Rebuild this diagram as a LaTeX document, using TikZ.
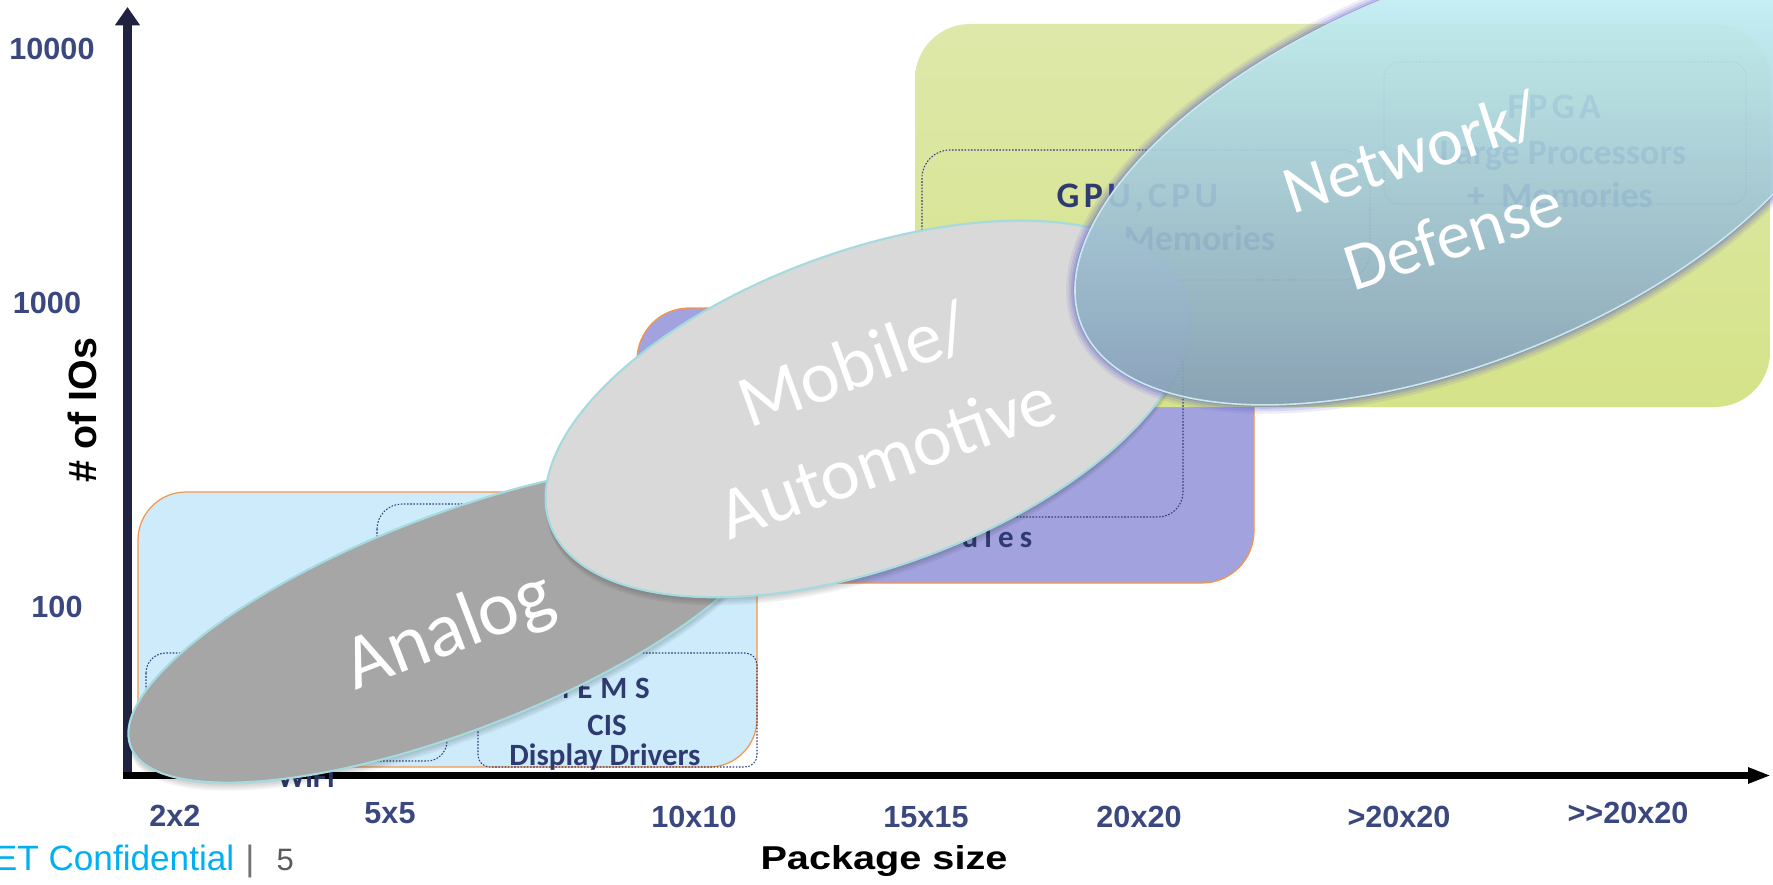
\documentclass[tikz,border=0pt]{standalone}
\usepackage{fontspec}
\usepackage{graphicx}
\usetikzlibrary{arrows.meta}
\newfontfamily\arialfont{Liberation Sans}
\newfontfamily\calfont{Carlito}
\definecolor{axisnavy}{RGB}{31,35,64}
\definecolor{ticknavy}{RGB}{59,72,128}
\definecolor{textnavy}{RGB}{47,58,112}
\definecolor{lbfill}{RGB}{205,235,251}
\definecolor{purplefill}{RGB}{162,163,222}
\definecolor{yeltop}{RGB}{222,232,170}
\definecolor{yelbot}{RGB}{213,227,137}
\definecolor{boxorange}{RGB}{247,150,70}
\definecolor{dotnavy}{RGB}{50,60,125}
\definecolor{analoggray}{RGB}{166,166,166}
\definecolor{mobilegray}{RGB}{217,217,217}
\definecolor{rimcyan}{RGB}{165,218,222}
\definecolor{nettop}{RGB}{204,255,255}
\definecolor{netmid}{RGB}{168,208,222}
\definecolor{netbot}{RGB}{128,152,180}
\definecolor{glowpurple}{RGB}{80,80,200}
\definecolor{confcyan}{RGB}{0,176,240}
\definecolor{pagegray}{RGB}{90,90,90}
\begin{document}
\begin{tikzpicture}[x=0.01cm,y=-0.01cm,
  ticklabel/.style={font=\arialfont\bfseries\fontsize{8.7pt}{10pt}\selectfont, text=ticknavy, inner sep=0, anchor=base},
  boxtext/.style={font=\calfont\bfseries\fontsize{8.8pt}{10pt}\selectfont, text=textnavy, inner sep=0, anchor=base},
  bigboxtext/.style={boxtext, font=\calfont\bfseries\fontsize{10.2pt}{12pt}\selectfont},
  zonelabel/.style={font=\calfont\fontsize{21pt}{28pt}\selectfont, text=white, align=center, inner sep=0},
  orangebox/.style={draw=boxorange, line width=0.35pt},
  dotbox/.style={draw=dotnavy, line width=0.3pt, dash pattern=on 0.45pt off 0.45pt},
  rimline/.style={draw=rimcyan, line width=0.6pt}]

\useasboundingbox (0,0) rectangle (1773,885);
\clip (0,0) rectangle (1773,885);
\fill[white] (0,0) rectangle (1773,885);

% axes
\coordinate (ybase) at (127.5,779);
\coordinate (ytip) at (127.5,7);
\coordinate (xbase) at (123,775.5);
\coordinate (xtip) at (1771,775.5);
\draw[axisnavy, line width=2.3pt, -{Triangle[length=5.2pt,width=6.8pt]}] (ybase) -- (ytip);
\draw[black, line width=2.1pt, -{Triangle[length=6.5pt,width=4.2pt]}] (xbase) -- (xtip);

% tick labels
\node[ticklabel] (y4) at (52,60) {10000};
\node[ticklabel] (y3) at (47,314) {1000};
\node[ticklabel] (y2) at (57,617) {100};
\node[ticklabel] (x1) at (175,826) {2x2};
\node[ticklabel] (x2) at (390,823) {5x5};
\node[ticklabel] (x3) at (694,827) {10x10};
\node[ticklabel] (x4) at (926,827) {15x15};
\node[ticklabel] (x5) at (1139,827) {20x20};
\node[ticklabel] (x6) at (1399,827) {>20x20};
\node[ticklabel] (x7) at (1628,823) {>>20x20};

% axis titles
\node[rotate=90, font=\arialfont\bfseries\fontsize{11.2pt}{13pt}\selectfont, inner sep=0] (ytitle) at (82,410) {\# of IOs};
\node[anchor=base, font=\arialfont\bfseries\fontsize{9.4pt}{11pt}\selectfont, inner sep=0] (xtitle) at (884,869) {\scalebox{1.2}[1]{Package size}};

% footer
\node[anchor=base east, font=\arialfont\fontsize{10pt}{12pt}\selectfont, text=confcyan, inner sep=0] (conf) at (235,870) {ET Confidential};
\node[anchor=base, font=\arialfont\fontsize{10pt}{12pt}\selectfont, text=pagegray!85, inner sep=0] (bar) at (250,870) {|};
\node[anchor=base west, font=\arialfont\fontsize{8.8pt}{11pt}\selectfont, text=pagegray, inner sep=0] (page) at (276,870) {5};

% package regions
\path[fill=purplefill, orangebox, rounded corners=0.52cm] (637,308) rectangle (1254,583);
\shade[top color=yeltop, bottom color=yelbot, rounded corners=0.55cm] (915,24) rectangle (1770,407);
\path[fill=lbfill, orangebox, rounded corners=0.48cm] (138,492) rectangle (757,767);

% sub-groups
\draw[dotbox, rounded corners=0.2cm] (146,653) rectangle (447,761);
\draw[dotbox, rounded corners=0.25cm] (377,504) rectangle (640,640);
\draw[dotbox, rounded corners=0.12cm] (478,653) rectangle (757,767);
\draw[dotbox, rounded corners=0.25cm] (800,280) rectangle (1183,517);
\draw[dotbox, rounded corners=0.28cm] (922,150) rectangle (1370,280);
\draw[dotbox, rounded corners=0.15cm] (1384,62) rectangle (1746,204);

% device names
\node[boxtext, anchor=base west] (mems) at (542,698) {\addfontfeature{LetterSpace=25}MEMS};
\node[boxtext] (cis) at (607,735) {CIS};
\node[boxtext] (drivers) at (605,765) {Display Drivers};
\node[boxtext] (wifi) at (306,787) {WiFi};
\node[boxtext, anchor=base west] (modules) at (882,547) {\addfontfeature{LetterSpace=20}Modules};
\node[bigboxtext, anchor=base west] (gpu) at (1056,207) {\addfontfeature{LetterSpace=12}GPU,CPU};
\node[bigboxtext, anchor=base east] (gpumem) at (1276,250) {+\ \ Memories};
\node[bigboxtext, anchor=base west] (fpga) at (1507,119) {\addfontfeature{LetterSpace=12}FPGA};
\node[bigboxtext] (large) at (1563,165) {Large Processors};
\node[bigboxtext] (fpgamem) at (1560,207) {+\ \ Memories};

% Analog
\foreach \d in {2,4,6,8} {
  \begin{scope}[rotate around={21:(453,623+\d)}]
    \fill[black, opacity=0.05] (453,623+\d) ellipse [x radius=3.45cm, y radius=1.08cm];
  \end{scope}
}
\begin{scope}[rotate around={21:(453,623)}]
  \path[fill=analoggray, rimline] (453,623) ellipse [x radius=3.45cm, y radius=1.08cm];
\end{scope}
\node[zonelabel, rotate=21, font=\calfont\fontsize{22pt}{28pt}\selectfont] (analog) at (450,633) {Analog};

% Mobile / Automotive
\foreach \d in {2,4,6,8} {
  \begin{scope}[rotate around={20:(868,409+\d)}]
    \fill[black, opacity=0.05] (868,409+\d) ellipse [x radius=3.38cm, y radius=1.58cm];
  \end{scope}
}
\begin{scope}[rotate around={20:(868,409)}]
  \path[fill=mobilegray, rimline] (868,409) ellipse [x radius=3.38cm, y radius=1.58cm];
\end{scope}
\node[zonelabel, rotate=20] (mobile) at (870,410) {Mobile/\\Automotive};

% Network / Defense
\begin{scope}[rotate around={22:(1461,172)}]
  \begin{scope}[even odd rule]
    \clip (-2000,-2000) rectangle (4000,3000) (1461,172) ellipse [x radius=4.09cm, y radius=1.89cm];
    \foreach \w/\o in {5pt/0.10, 3.6pt/0.14, 2.2pt/0.18, 1pt/0.25}
      \draw[glowpurple, opacity=\o, line width=\w] (1461,172) ellipse [x radius=4.09cm, y radius=1.89cm];
  \end{scope}
  \shade[top color=nettop, middle color=netmid, bottom color=netbot, fill opacity=0.92] (1461,172) ellipse [x radius=4.09cm, y radius=1.89cm];
  \draw[draw=rimcyan!60!white, line width=0.45pt] (1461,172) ellipse [x radius=4.09cm, y radius=1.89cm];
\end{scope}
\node[zonelabel, anchor=base, rotate=18, font=\calfont\fontsize{19.3pt}{25pt}\selectfont] (network) at (1418,174) {Network/};
\node[zonelabel, anchor=base, rotate=18, font=\calfont\fontsize{19.3pt}{25pt}\selectfont] (defense) at (1460,257) {Defense};

\end{tikzpicture}
\end{document}
